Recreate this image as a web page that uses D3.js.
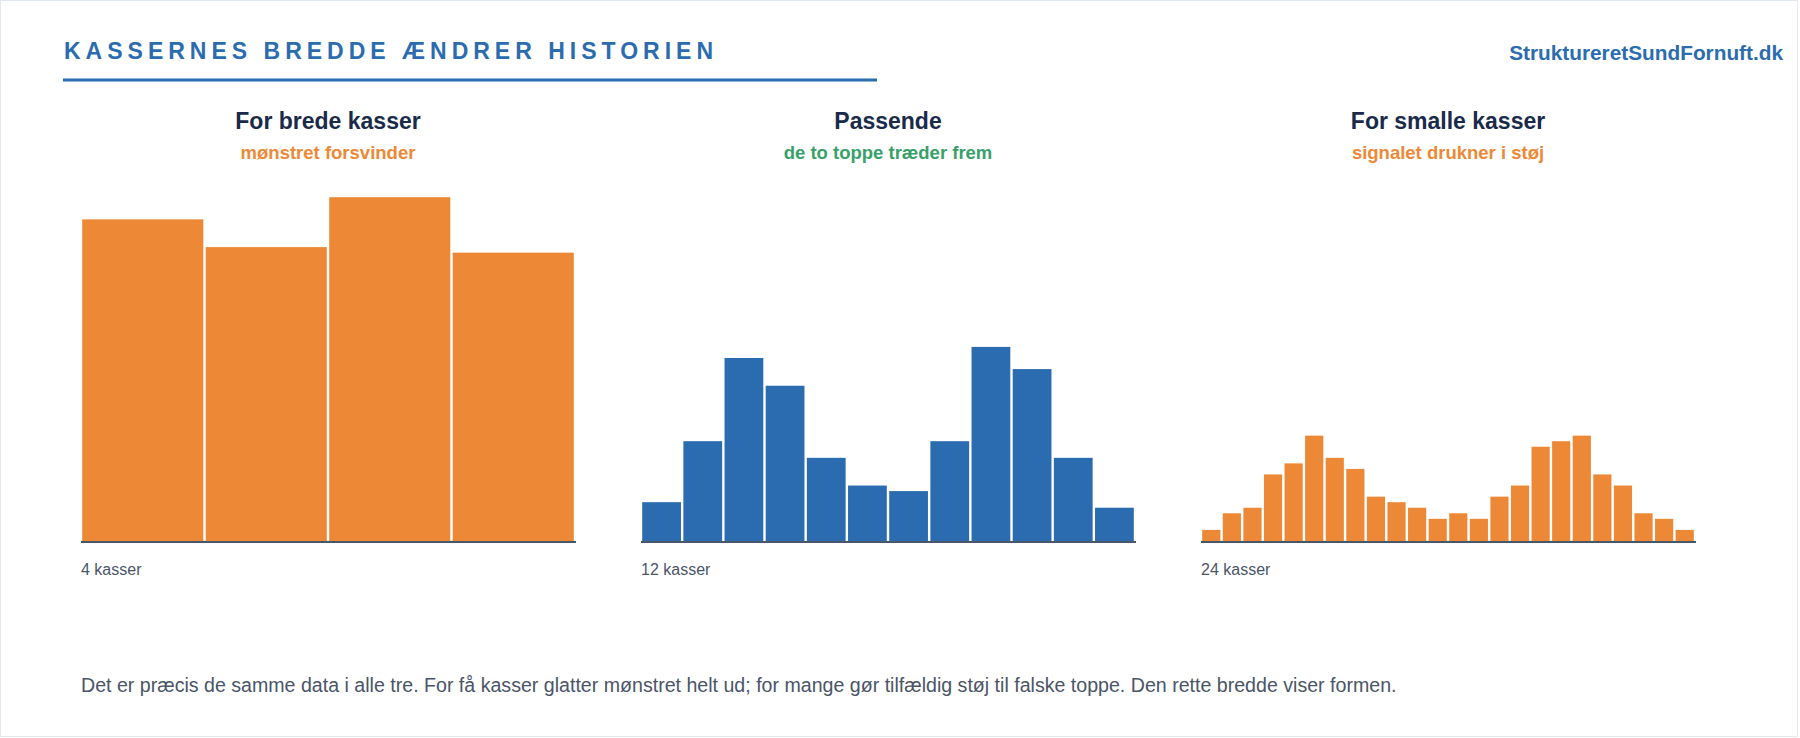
<!DOCTYPE html>
<html>
<head>
<meta charset="utf-8">
<script src="https://cdn.jsdelivr.net/npm/d3@7"></script>
<style>
  html, body { margin: 0; padding: 0; background: #ffffff; }
  svg { display: block; font-family: "Liberation Sans", Arial, sans-serif; }
</style>
</head>
<body>
<svg id="chart" width="1800" height="738"></svg>
<script>
// ---- data (counts) ----
const panelTitles = ["For brede kasser", "Passende", "For smalle kasser"];
const panelSubtitles = ["mønstret forsvinder", "de to toppe træder frem", "signalet drukner i støj"];
const panelLabels = ["4 kasser", "12 kasser", "24 kasser"];
const counts4 = [58, 53, 62, 52];
const counts12 = [7, 18, 33, 28, 15, 10, 9, 18, 35, 31, 15, 6];
const counts24 = [2, 5, 6, 12, 14, 19, 15, 13, 8, 7, 6, 4, 5, 4, 8, 10, 17, 18, 19, 12, 10, 5, 4, 2];
const mainTitle = "KASSERNES BREDDE ÆNDRER HISTORIEN";
const siteName = "StruktureretSundFornuft.dk";
const footerText = "Det er præcis de samme data i alle tre. For få kasser glatter mønstret helt ud; for mange gør tilfældig støj til falske toppe. Den rette bredde viser formen.";

// ---- styles ----
const BLUE = "#2b6cb0", ORANGE = "#ed8936", GREEN = "#38a169";
const NAVY = "#1a2a4a", GRAY = "#4a5568";
const barColors = [ORANGE, BLUE, ORANGE];
const subColors = [ORANGE, GREEN, ORANGE];

const svg = d3.select("#chart");

// border
svg.append("rect").attr("x", 0.5).attr("y", 0.5).attr("width", 1797).attr("height", 736)
  .attr("fill", "#fff").attr("stroke", "#e2e8f0").attr("stroke-width", 1);

// header
svg.append("text").attr("x", 64).attr("y", 58.5)
  .attr("fill", BLUE).attr("font-size", 23).attr("font-weight", "bold")
  .attr("letter-spacing", "5px").text(mainTitle);
svg.append("rect").attr("x", 63).attr("y", 78.5).attr("width", 814).attr("height", 3).attr("fill", BLUE);
svg.append("text").attr("x", 1783).attr("y", 60).attr("text-anchor", "end")
  .attr("fill", BLUE).attr("font-size", 20.8).attr("font-weight", "bold").text(siteName);

// shared y scale
const allCounts = [counts4, counts12, counts24];
const yMax = d3.max(allCounts.flat());
const y = d3.scaleLinear().domain([0, yMax * 1.05]).range([541, 180]);

const pw = 494, gap = 66;

allCounts.forEach((counts, i) => {
  const x0 = 81 + i * (pw + gap);
  const g = svg.append("g");
  const x = d3.scaleBand().domain(d3.range(counts.length)).range([x0, x0 + pw]).padding(0);
  const cx = x0 + pw / 2;

  g.append("text").attr("x", cx).attr("y", 128.5).attr("text-anchor", "middle")
    .attr("fill", NAVY).attr("font-size", 23).attr("font-weight", "bold").text(panelTitles[i]);
  g.append("text").attr("x", cx).attr("y", 159).attr("text-anchor", "middle")
    .attr("fill", subColors[i]).attr("font-size", 18.5).attr("font-weight", "bold").text(panelSubtitles[i]);

  g.selectAll("rect.bar").data(counts).join("rect").attr("class", "bar")
    .attr("x", (d, j) => x(j) + 1.2)
    .attr("width", x.bandwidth() - 2.4)
    .attr("y", d => y(d))
    .attr("height", d => y(0) - y(d))
    .attr("fill", barColors[i]);

  g.append("line").attr("x1", x0).attr("x2", x0 + pw + 1).attr("y1", 542).attr("y2", 542)
    .attr("stroke", GRAY).attr("stroke-width", 2);

  g.append("text").attr("x", x0).attr("y", 574.5).attr("fill", GRAY).attr("font-size", 16).text(panelLabels[i]);
});

svg.append("text").attr("x", 81).attr("y", 692).attr("fill", GRAY).attr("font-size", 19.6).text(footerText);
</script>
</body>
</html>
